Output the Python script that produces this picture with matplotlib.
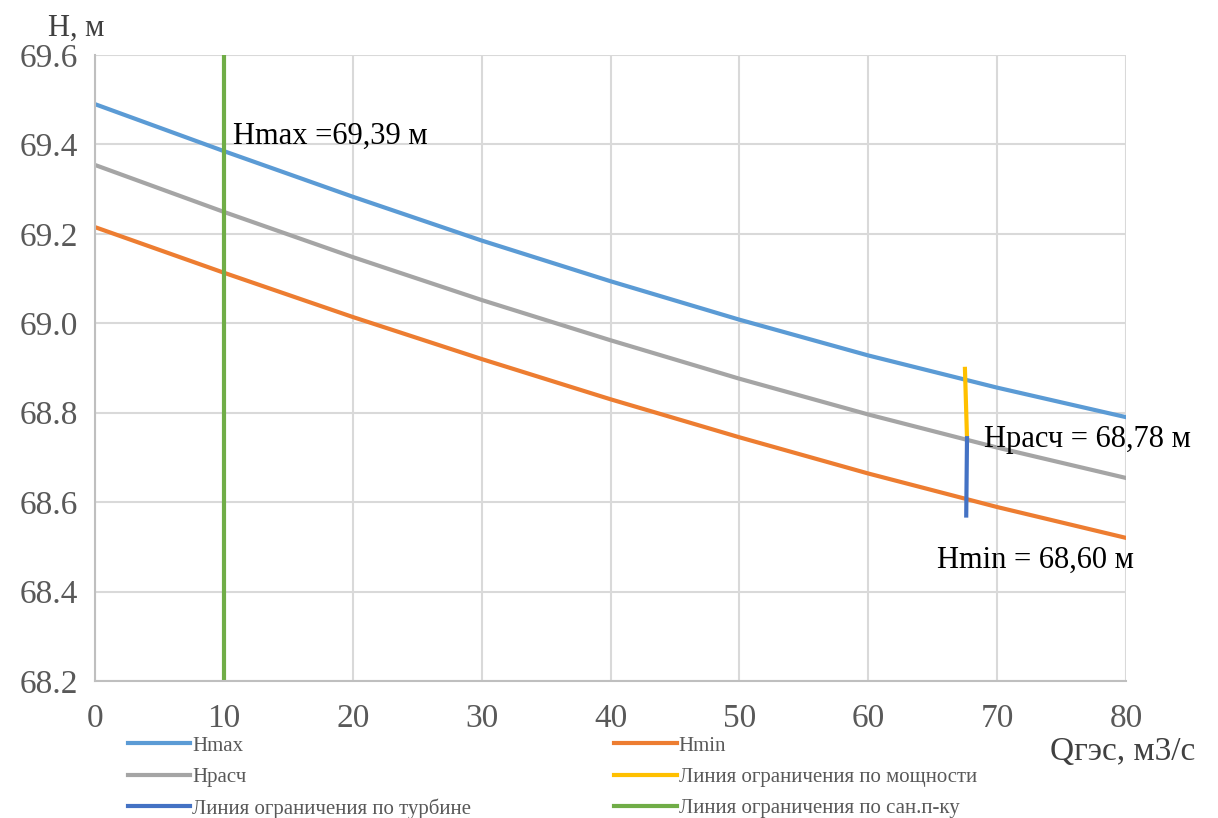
import matplotlib.pyplot as plt

plt.rcParams['font.family'] = ['Liberation Serif', 'DejaVu Serif']

# расход через ГЭС, м3/с
q = [0, 10, 20, 30, 40, 50, 60, 70, 80]
h_max = [69.49, 69.385, 69.283, 69.185, 69.094, 69.008, 68.928, 68.856, 68.79]
h_min = [69.215, 69.113, 69.014, 68.92, 68.83, 68.745, 68.664, 68.589, 68.52]
h_calc = [69.354, 69.249, 69.148, 69.052, 68.962, 68.876, 68.796, 68.722, 68.654]

# линии ограничений
power_q = [67.5, 67.66]
power_h = [68.898, 68.743]
turbine_q = [67.66, 67.6]
turbine_h = [68.743, 68.57]
san_q = [10, 10]
san_h = [68.2, 69.6]

x_ticks = [0, 10, 20, 30, 40, 50, 60, 70, 80]
y_ticks = [68.2, 68.4, 68.6, 68.8, 69.0, 69.2, 69.4, 69.6]

fig = plt.figure(figsize=(12.18, 8.18), dpi=100)
ax = fig.add_axes([0.078, 0.1675, 0.8465, 0.7653])

lw = 3
l1, = ax.plot(q, h_max, color='#5B9BD5', lw=lw, label='Hmax')
l2, = ax.plot(q, h_min, color='#ED7D31', lw=lw, label='Hmin')
l3, = ax.plot(q, h_calc, color='#A5A5A5', lw=lw, label='Hрасч')
l4, = ax.plot(power_q, power_h, color='#FFC000', lw=lw, label='Линия ограничения по мощности')
l5, = ax.plot(turbine_q, turbine_h, color='#4472C4', lw=lw, label='Линия ограничения по турбине')
l6, = ax.plot(san_q, san_h, color='#70AD47', lw=lw, label='Линия ограничения по сан.п-ку')

ax.set_xlim(0, 80)
ax.set_ylim(68.2, 69.6)
ax.set_xticks(x_ticks)
ax.set_yticks(y_ticks)
ax.set_yticklabels([f'{v:.1f}' for v in y_ticks])
ax.grid(True, color='#d9d9d9', lw=1.5)
ax.set_axisbelow(True)
for s in ['top', 'right']:
    ax.spines[s].set_visible(False)
for s in ['left', 'bottom']:
    ax.spines[s].set_color('#bfbfbf')
    ax.spines[s].set_linewidth(1.5)
ax.tick_params(length=0, labelsize=24, labelcolor='#595959')
ax.tick_params(axis='x', pad=16)
ax.tick_params(axis='y', pad=12)

txt = dict(fontsize=22, color='black')
ax.text(10.7, 69.385, 'Hmax =69,39 м', va='bottom', **txt)
ax.text(69.0, 68.74, 'Hрасч = 68,78 м', va='center', **txt)
ax.text(65.3, 68.47, 'Hmin = 68,60 м', va='center', **txt)

fig.text(0.039, 0.965, 'H, м', fontsize=22, color='#404040', va='center')
fig.text(0.862, 0.081, 'Qгэс, м3/с', fontsize=24, color='#404040', va='center')

# порядок подписей: заполнение по строкам
fig.legend(handles=[l1, l3, l5, l2, l4, l6], ncol=2, loc='upper left',
           bbox_to_anchor=(0.105, 0.100), frameon=False, fontsize=15,
           handlelength=3.0, handletextpad=0.1, columnspacing=6.85,
           labelspacing=0.55, borderpad=0, borderaxespad=0,
           labelcolor='#595959')

fig.savefig('out.png', dpi=100)
